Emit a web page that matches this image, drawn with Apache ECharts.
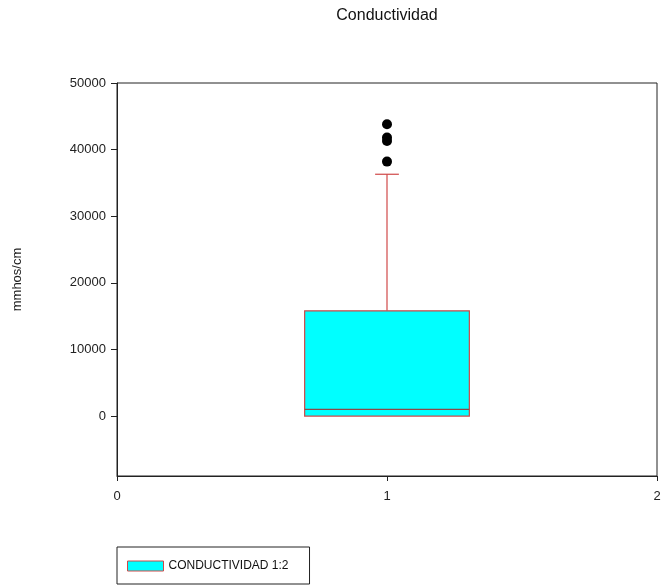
<!DOCTYPE html>
<html>
<head>
<meta charset="utf-8">
<script src="https://cdn.jsdelivr.net/npm/echarts@6/dist/echarts.min.js"></script>
<style>html,body{margin:0;padding:0;background:#fff}#c{width:670px;height:585px}</style>
</head>
<body>
<div id="c"></div>
<script>
// Data
const seriesName = 'CONDUCTIVIDAD 1:2';
const boxStats = [[1, 0, 0, 1000, 15800, 36300]]; // [x, min, q1, median, q3, max]
const outliers = [43800, 41800, 41300, 38200];
const yTicks = [0, 10000, 20000, 30000, 40000, 50000];
const xTicks = [0, 1, 2];

const font = 'Liberation Sans, Arial, sans-serif';
const BOX_HALF = 0.305, CAP_HALF = 0.044;

const chart = echarts.init(document.getElementById('c'));
chart.setOption({
  animation: false,
  backgroundColor: '#fff',
  graphic: [{
    type: 'text', x: 387, y: 16,
    style: { text: 'Conductividad', font: '16px ' + font, fill: '#111', textAlign: 'center', textVerticalAlign: 'middle' }
  }],
  grid: { left: 117, right: 13, top: 83, bottom: 109, containLabel: false, outerBoundsMode: 'none', show: true, borderColor: '#222', borderWidth: 1, backgroundColor: 'transparent' },
  legend: {
    left: 117, top: 547,
    orient: 'vertical',
    padding: [13, 21, 12, 10],
    borderColor: '#222', borderWidth: 1,
    itemWidth: 36, itemHeight: 10,
    textStyle: { fontFamily: font, fontSize: 12, color: '#111' },
    data: [{ name: seriesName, icon: 'rect', itemStyle: { color: '#00ffff', borderColor: '#d04848', borderWidth: 1 } }]
  },
  xAxis: {
    type: 'value', min: 0, max: 2, interval: 1,
    splitLine: { show: false },
    axisLine: { show: true, onZero: false, lineStyle: { color: '#222', width: 1 } },
    axisTick: { show: true, length: 5, inside: false, lineStyle: { color: '#222' } },
    axisLabel: { margin: 14, fontFamily: font, fontSize: 13, color: '#222', customValues: xTicks, formatter: v => String(v) }
  },
  yAxis: {
    type: 'value', min: -9000, max: 50000,
    name: 'mmhos/cm', nameLocation: 'middle', nameRotate: 90, nameGap: 93,
    nameTextStyle: { fontFamily: font, fontSize: 13, color: '#222' },
    splitLine: { show: false },
    axisLine: { show: true, onZero: false, lineStyle: { color: '#222', width: 1 } },
    axisTick: { show: true, length: 6, inside: false, customValues: yTicks, lineStyle: { color: '#222' } },
    axisLabel: { margin: 11, fontFamily: font, fontSize: 13, color: '#222', customValues: yTicks, formatter: v => String(v) }
  },
  series: [{
    name: seriesName,
    type: 'custom',
    data: boxStats,
    itemStyle: { color: '#00ffff', borderColor: '#d04848' },
    renderItem: function (params, api) {
      const x = api.value(0), mn = api.value(1), q1 = api.value(2), md = api.value(3), q3 = api.value(4), mx = api.value(5);
      const tl = api.coord([x - BOX_HALF, q3]);
      const br = api.coord([x + BOX_HALF, q1]);
      const mL = api.coord([x - BOX_HALF, md]);
      const mR = api.coord([x + BOX_HALF, md]);
      const top = api.coord([x, mx]);
      const bot = api.coord([x, mn]);
      const cL = api.coord([x - CAP_HALF, mx]);
      const cR = api.coord([x + CAP_HALF, mx]);
      const lineC = '#d04848';
      return {
        type: 'group',
        children: [
          { type: 'line', shape: { x1: top[0], y1: top[1], x2: top[0], y2: tl[1] }, style: { stroke: lineC, lineWidth: 1.2 } },
          { type: 'line', shape: { x1: cL[0], y1: cL[1], x2: cR[0], y2: cR[1] }, style: { stroke: lineC, lineWidth: 1.2 } },
          { type: 'line', shape: { x1: bot[0], y1: bot[1], x2: bot[0], y2: br[1] }, style: { stroke: lineC, lineWidth: 1.2 } },
          { type: 'rect', shape: { x: tl[0], y: tl[1], width: br[0] - tl[0], height: br[1] - tl[1] }, style: { fill: '#00ffff', stroke: lineC, lineWidth: 1.2 } },
          { type: 'line', shape: { x1: mL[0], y1: mL[1], x2: mR[0], y2: mR[1] }, style: { stroke: '#8a4a4a', lineWidth: 1.2 } }
        ]
      };
    },
    z: 2
  }, {
    type: 'scatter',
    name: 'outliers',
    data: outliers.map(v => [1, v]),
    symbol: 'circle', symbolSize: 10,
    itemStyle: { color: '#000', opacity: 1 },
    z: 3
  }]
});
</script>
</body>
</html>
